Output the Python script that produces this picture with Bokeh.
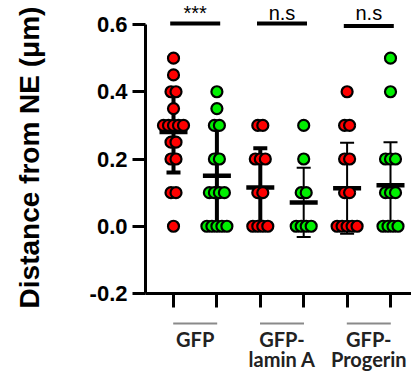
import math
from bokeh.plotting import figure
from bokeh.models import Range1d, FixedTicker
from bokeh.core.properties import value
from bokeh.embed import file_html
from bokeh.resources import INLINE

# ---------------- data ----------------
conditions = ["GFP", "GFP", "GFP-lamin A", "GFP-lamin A", "GFP-Progerin", "GFP-Progerin"]
channels = ["red", "green", "red", "green", "red", "green"]
values = [
    [0.5, 0.45, 0.4, 0.4, 0.35, 0.3, 0.3, 0.3, 0.3, 0.3, 0.25, 0.25, 0.2, 0.2, 0.1, 0.1, 0.0],
    [0.4, 0.35, 0.3, 0.3, 0.2, 0.2, 0.1, 0.1, 0.1, 0.1, 0.0, 0.0, 0.0, 0.0, 0.0],
    [0.3, 0.3, 0.2, 0.2, 0.2, 0.1, 0.1, 0.0, 0.0, 0.0, 0.0],
    [0.3, 0.2, 0.1, 0.1, 0.0, 0.0, 0.0, 0.0],
    [0.4, 0.3, 0.3, 0.2, 0.2, 0.1, 0.1, 0.0, 0.0, 0.0, 0.0, 0.0],
    [0.5, 0.4, 0.2, 0.2, 0.2, 0.1, 0.1, 0.1, 0.0, 0.0, 0.0, 0.0],
]
means = [0.28, 0.15, 0.115, 0.071, 0.113, 0.122]
sds = [0.12, 0.15, 0.117, 0.103, 0.135, 0.128]
group_labels = ["GFP", "GFP-\nlamin A", "GFP-\nProgerin"]
significance = ["***", "n.s", "n.s"]
y_ticks = [-0.2, 0.0, 0.2, 0.4, 0.6]
y_tick_labels = ["-0.2", "0.0", "0.2", "0.4", "0.6"]
y_title = "Distance from NE (\u03bcm)"

# ---------------- styling / layout ----------------
fill_colors = {"red": "#ff0000", "green": "#00f000"}
thick_bars = [True, True, True, False, False, False]
W, H = 411, 371
PX_X = 43.4          # px per category step
PX_Y = 336.25        # px per y unit
X0_PX, YTOP_PX, YBOT_PX, AXIS_X_PX = 173, 24, 293, 145
XMIN = 1 - X0_PX / PX_X
XMAX = 1 + (W - X0_PX) / PX_X
YMAX = 0.6 + YTOP_PX / PX_Y
YMIN = -0.2 - (H - YBOT_PX) / PX_Y
X_AXIS_POS = 1 - (X0_PX - AXIS_X_PX) / PX_X


def px_x(dpx):
    return dpx / PX_X


def px_y(dpx):
    return dpx / PX_Y


p = figure(width=W, height=H, x_range=Range1d(XMIN, XMAX), y_range=Range1d(YMIN, YMAX),
           output_backend="svg", toolbar_location=None,
           min_border_left=0, min_border_right=0, min_border_top=0, min_border_bottom=0)
p.outline_line_color = None
p.xgrid.visible = False
p.ygrid.visible = False
p.background_fill_color = "white"
p.border_fill_color = "white"

# y axis
ya = p.yaxis[0]
ya.fixed_location = X_AXIS_POS
ya.ticker = FixedTicker(ticks=y_ticks)
ya.major_label_overrides = {t: l for t, l in zip(y_ticks, y_tick_labels)}
ya.bounds = (y_ticks[0], y_ticks[-1])
ya.axis_line_width = 3
ya.major_tick_line_width = 3
ya.major_tick_out = 13
ya.major_tick_in = 0
ya.minor_tick_line_color = None
ya.major_label_standoff = 5
ya.major_label_text_font = "Liberation Sans"
ya.major_label_text_font_style = "bold"
ya.major_label_text_font_size = "22px"
ya.major_label_text_color = "black"

# x axis
xs_cat = list(range(1, len(conditions) + 1))
xa = p.xaxis[0]
xa.fixed_location = y_ticks[0]
xa.bounds = (X_AXIS_POS, XMAX)
xa.ticker = FixedTicker(ticks=xs_cat)
xa.major_label_overrides = {i: "" for i in xs_cat}
xa.major_label_text_font_size = "1px"
xa.axis_line_width = 3
xa.major_tick_line_width = 3
xa.major_tick_out = 14
xa.major_tick_in = 0
xa.minor_tick_line_color = None

# y axis title
p.text(x=[1 + px_x(29 - X0_PX)], y=[0.6 - px_y(157 - YTOP_PX)], text=[y_title], angle=math.pi / 2,
       text_align="center", text_baseline="middle", text_font=value("Liberation Sans"),
       text_font_style="bold", text_font_size="28px", text_color="black")

# error bars (behind points)
cap_w = px_x(7)
mean_w = px_x(14)
v_x0, v_y0, v_y1, v_w = [], [], [], []
c_x0, c_x1, c_y, c_w = [], [], [], []
m_x0, m_x1, m_y = [], [], []
for i, (m, s) in enumerate(zip(means, sds)):
    x = xs_cat[i]
    w = 4 if thick_bars[i] else 2
    v_x0.append(x); v_y0.append(m - s); v_y1.append(m + s); v_w.append(w)
    for yy in (m - s, m + s):
        c_x0.append(x - cap_w); c_x1.append(x + cap_w); c_y.append(yy); c_w.append(w)
    m_x0.append(x - mean_w); m_x1.append(x + mean_w); m_y.append(m)

p.segment(x0=v_x0, y0=v_y0, x1=v_x0, y1=v_y1, line_width=v_w, line_color="black")
p.segment(x0=c_x0, y0=c_y, x1=c_x1, y1=c_y, line_width=c_w, line_color="black")
p.segment(x0=m_x0, y0=m_y, x1=m_x1, y1=m_y, line_width=4.5, line_color="black")

# points with symmetric spread of duplicates
gap = px_x(5)
for i, vals in enumerate(values):
    px, py = [], []
    counts = {}
    for v in vals:
        counts[v] = counts.get(v, 0) + 1
    for v, n in counts.items():
        for k in range(n):
            px.append(xs_cat[i] + (k - (n - 1) / 2) * gap)
            py.append(v)
    p.scatter(px, py, size=11, fill_color=fill_colors[channels[i]], line_color="black", line_width=2.2)

# group labels under the axis, with overlines
n_groups = len(group_labels)
for g in range(n_groups):
    cx = (xs_cat[2 * g] + xs_cat[2 * g + 1]) / 2
    oy = -0.2 - px_y(30)
    p.segment(x0=[cx - px_x(22)], y0=[oy], x1=[cx + px_x(22)], y1=[oy],
              line_color="#8a8a8a", line_width=2)
    for li, txt in enumerate(group_labels[g].split("\n")):
        p.text(x=[cx], y=[-0.2 - px_y(45 + 20 * li)], text=[txt],
               text_align="center", text_baseline="alphabetic",
               text_font=value("Lato"), text_font_style="bold",
               text_font_size="20px", text_color="#222222")

# significance bars
sig_y = [0.6 + px_y(1), 0.6 + px_y(1), 0.6 - px_y(1.5)]
for g in range(n_groups):
    cx = (xs_cat[2 * g] + xs_cat[2 * g + 1]) / 2
    p.segment(x0=[cx - px_x(25)], y0=[sig_y[g]], x1=[cx + px_x(25)], y1=[sig_y[g]],
              line_width=4, line_color="black")
    txt = significance[g]
    ty = 0.6 + px_y(12)
    p.text(x=[cx], y=[ty], text=[txt], text_align="center", text_baseline="alphabetic",
           text_font=value("Liberation Sans"), text_font_size="20px", text_color="black")

open("out.html", "w").write(file_html(p, INLINE))
